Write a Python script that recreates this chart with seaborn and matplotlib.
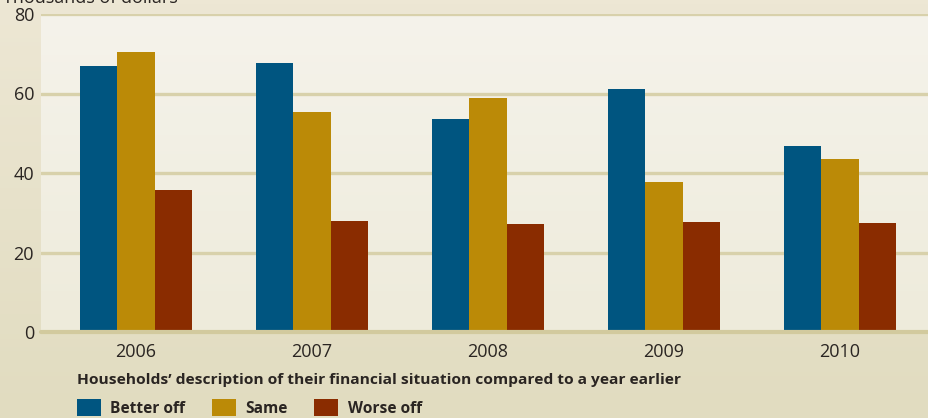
import numpy as np
import pandas as pd
import matplotlib
matplotlib.use("Agg")
import matplotlib.pyplot as plt
import seaborn as sns
from matplotlib.colors import LinearSegmentedColormap

years = ["2006", "2007", "2008", "2009", "2010"]
series = ["Better off", "Same", "Worse off"]
better_off = [66.9, 67.7, 53.6, 61.1, 46.8]
same = [70.4, 55.3, 58.9, 37.7, 43.5]
worse_off = [35.7, 27.9, 27.2, 27.7, 27.4]
yticks = [0, 20, 40, 60, 80]
colors = ["#005580", "#BB8A07", "#8A2C00"]

df = pd.DataFrame({
    "year": years * 3,
    "status": sum([[s] * len(years) for s in series], []),
    "value": better_off + same + worse_off,
})

sns.set_theme(style="white")
plt.rcParams["font.family"] = ["Open Sans", "DejaVu Sans"]

W, H = 929, 418
fig = plt.figure(figsize=(W / 100, H / 100), dpi=100, facecolor="#E3DEC3")

# figure background gradient (lighter at top)
bgax = fig.add_axes([0, 0, 1, 1], zorder=-10)
bgax.imshow(np.linspace(0, 1, 100).reshape(-1, 1), aspect="auto", origin="lower",
            cmap=LinearSegmentedColormap.from_list("fbg", ["#E1DCC0", "#EDE7D4"]),
            extent=[0, 1, 0, 1])
bgax.set_axis_off()

ax = fig.add_axes([41 / W, (H - 332) / H, 1 - 41 / W, (332 - 14) / H])

grad = np.linspace(0, 1, 100).reshape(-1, 1)
cmap = LinearSegmentedColormap.from_list("bg", ["#EEEBDB", "#F5F3EB"])
ax.imshow(grad, aspect="auto", cmap=cmap, origin="lower",
          extent=[0, 1, 0, 1], transform=ax.transAxes, zorder=0)

sns.barplot(data=df, x="year", y="value", hue="status", order=years,
            hue_order=series, palette=colors, width=0.64, gap=0,
            saturation=1, ax=ax, zorder=3, edgecolor="none", linewidth=0)

ax.set_xlim(-0.54, 4.506)
ax.set_ylim(0, 80)
ax.set_yticks(yticks)
ax.set_yticklabels([str(t) for t in yticks], fontsize=13, color="#2A2522")
for t in yticks[1:]:
    ax.axhline(t, color="#D8D1AB", lw=2.4, zorder=1)
ax.axhline(0, color="#D2CA9E", lw=3.0, zorder=4, clip_on=False)
for s in ax.spines.values():
    s.set_visible(False)
ax.tick_params(axis="y", length=0, pad=5)
ax.tick_params(axis="x", length=0, pad=8, labelsize=13, labelcolor="#2A2522")
ax.set_xlabel("")
ax.set_ylabel("")

fig.text(77 / W, 1 - 380 / H, "Households\u2019 description of their financial situation compared to a year earlier",
         fontsize=11.15, fontweight="bold", color="#2A2522", va="center", ha="left")
fig.text(3 / W, 1 - 3 / H, "Thousands of dollars", fontsize=13, color="#2A2522",
         va="baseline", ha="left")

handles, labels = ax.get_legend_handles_labels()
ax.get_legend().remove()
fig.legend(handles, labels, loc="upper left", bbox_to_anchor=(77 / W, 1 - 399 / H),
           ncol=3, frameon=False, prop={"size": 11.2, "weight": "bold"},
           handlelength=1.55, handleheight=1.3, handletextpad=0.6,
           columnspacing=1.7, borderpad=0, borderaxespad=0, labelcolor="#2A2522")

fig.savefig("out.png", dpi=100, facecolor=fig.get_facecolor())
